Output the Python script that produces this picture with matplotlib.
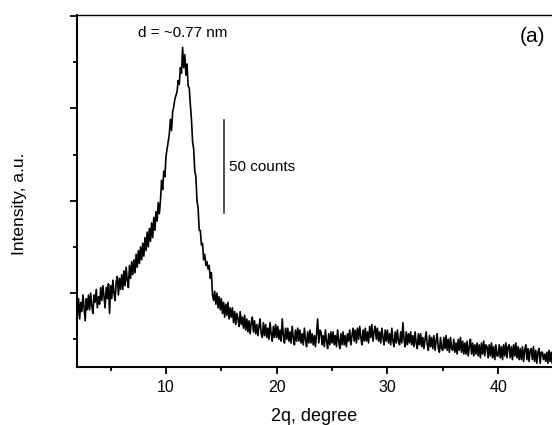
import numpy as np
import matplotlib
matplotlib.use("Agg")
import matplotlib.pyplot as plt
from matplotlib.ticker import MultipleLocator, NullFormatter

plt.rcParams['font.family'] = ['Liberation Sans', 'DejaVu Sans']

# 2-theta grid (degrees), step 0.1 from 2.0 to 45.0
two_theta = np.round(np.arange(2.0, 45.0001, 0.1), 2)

# Intensity in counts (one row = one degree)
intensity = [
    88, 97, 86, 95, 90, 99, 92, 85, 97, 91,            # 2
    99, 91, 100, 93, 89, 99, 95, 102, 92, 98,          # 3
    94, 103, 96, 104, 98, 92, 103, 97, 105, 89,        # 4
    104, 97, 107, 100, 96, 106, 109, 99, 108, 102,     # 5
    110, 102, 112, 104, 114, 107, 103, 115, 108, 117,  # 6
    110, 118, 111, 121, 114, 123, 116, 125, 118, 127,  # 7
    120, 130, 123, 133, 125, 135, 128, 138, 130, 141,  # 8
    134, 144, 139, 149, 143, 150, 161, 156, 166, 163,  # 9
    174, 178, 182, 186, 194, 188, 198, 201, 205, 207,  # 10
    209, 215, 213, 222, 219, 233, 222, 229, 218, 224,  # 11
    212, 211, 202, 194, 182, 178, 166, 163, 150, 146,  # 12
    134, 134, 126, 127, 118, 121, 115, 117, 113, 115,  # 13
    108, 111, 99, 96, 101, 94, 100, 92, 98, 91,        # 14
    97, 89, 95, 87, 94, 88, 95, 86, 92, 87,            # 15
    92, 84, 90, 83, 89, 86, 82, 90, 83, 87,            # 16
    81, 88, 80, 86, 79, 85, 78, 84, 87, 79,            # 17
    85, 78, 83, 77, 82, 86, 78, 76, 84, 77,            # 18
    83, 76, 81, 75, 84, 78, 74, 82, 76, 83,            # 19
    76, 82, 75, 80, 74, 86, 77, 73, 81, 75,            # 20
    81, 74, 79, 73, 82, 76, 72, 80, 74, 81,            # 21
    74, 80, 73, 78, 72, 81, 75, 71, 79, 73,            # 22
    80, 73, 78, 72, 77, 71, 78, 86, 73, 80,            # 23
    79, 72, 77, 71, 80, 74, 70, 78, 72, 79,            # 24
    73, 79, 72, 77, 71, 80, 74, 70, 78, 72,            # 25
    79, 72, 77, 71, 78, 74, 80, 72, 77, 81,            # 26
    74, 80, 73, 81, 75, 82, 76, 72, 80, 74,            # 27
    81, 74, 79, 73, 82, 76, 83, 74, 79, 82,            # 28
    75, 81, 74, 79, 73, 81, 76, 72, 80, 74,            # 29
    80, 73, 78, 72, 81, 74, 71, 79, 73, 80,            # 30
    74, 72, 79, 73, 84, 75, 71, 79, 72, 78,            # 31
    73, 79, 72, 77, 71, 79, 73, 70, 78, 72,            # 32
    78, 71, 76, 70, 75, 79, 72, 69, 77, 71,            # 33
    76, 70, 77, 69, 74, 78, 70, 68, 76, 70,            # 34
    69, 76, 70, 77, 69, 75, 68, 76, 70, 69,            # 35
    75, 68, 73, 67, 75, 69, 76, 68, 74, 67,            # 36
    73, 67, 74, 66, 71, 75, 67, 73, 66, 72,            # 37
    67, 73, 66, 72, 65, 73, 67, 74, 66, 72,            # 38
    71, 65, 72, 66, 73, 65, 71, 64, 72, 66,            # 39
    66, 72, 65, 71, 64, 72, 66, 73, 65, 71,            # 40
    72, 65, 71, 64, 72, 66, 73, 65, 71, 64,            # 41
    70, 64, 71, 63, 69, 72, 64, 70, 63, 69,            # 42
    70, 64, 71, 63, 69, 62, 68, 70, 62, 68,            # 43
    68, 64, 67, 63, 68, 62, 69, 63, 68, 62,            # 44
    65,                                                # 45
]

x_ticks = [10, 20, 30, 40]
peak_label = "d = ~0.77 nm"
panel_label = "(a)"
scale_label = "50 counts"
scale_counts = 50

fig = plt.figure(figsize=(5.52, 4.25), dpi=100)
ax = fig.add_axes([77/552, 1 - 367/425, 1 - 77/552, (367 - 15)/425])

ax.plot(two_theta, intensity, color='black', lw=1.2)

ax.set_xlim(1.96, 44.87)
ax.set_ylim(60, 250.5)

ax.set_xticks(x_ticks)
ax.xaxis.set_minor_locator(MultipleLocator(5))
ax.yaxis.set_major_locator(MultipleLocator(50))
ax.yaxis.set_minor_locator(MultipleLocator(25))
ax.yaxis.set_major_formatter(NullFormatter())

ax.tick_params(axis='both', which='major', direction='out', length=5, width=1.3,
               labelsize=11.5, pad=4)
ax.tick_params(axis='both', which='minor', direction='out', length=3, width=1.3)
ax.spines['right'].set_visible(False)
for s in ['left', 'bottom']:
    ax.spines[s].set_linewidth(1.5)
ax.spines['top'].set_linewidth(1.0)

# scale bar
ax.plot([15.24, 15.24], [143.5, 143.5 + scale_counts], color='#333333', lw=1.2)
ax.text(15.7, 168.5, scale_label, fontsize=11, va='center', ha='left')

ax.text(11.55, 241, peak_label, fontsize=11, ha='center', va='center')
ax.text(44.3, 239, panel_label, fontsize=15, ha='right', va='center')

ax.set_xlabel("2q, degree", fontsize=13, labelpad=10)
fig.text(20/552, 1 - 204/425, "Intensity, a.u.", rotation=90, fontsize=12.5,
         ha='center', va='center')

fig.savefig("out.png", dpi=100)
